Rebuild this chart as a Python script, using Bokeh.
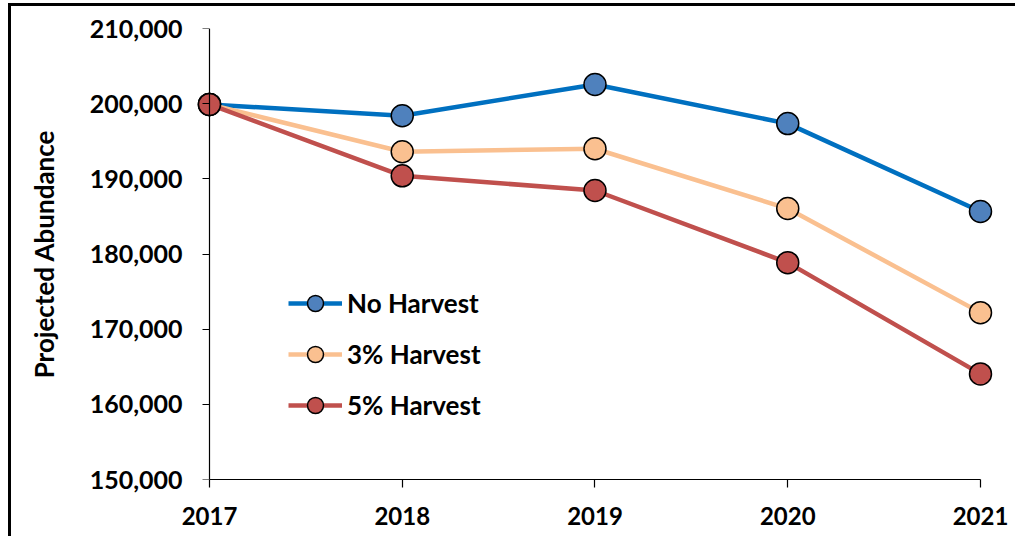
from bokeh.plotting import figure
from bokeh.models import FixedTicker, NumeralTickFormatter, Legend, LegendItem, Range1d, LinearAxis
from bokeh.embed import file_html
from bokeh.resources import INLINE

years = [2017, 2018, 2019, 2020, 2021]
no_harvest = [199900, 198400, 202550, 197350, 185650]
harvest_3 = [199900, 193600, 194000, 186050, 172200]
harvest_5 = [199900, 190400, 188450, 178850, 164050]
series_names = ["No Harvest", "3% Harvest", "5% Harvest"]
y_ticks = [150000, 160000, 170000, 180000, 190000, 200000, 210000]
x_ticks = years
y_label = "Projected Abundance"

FONT = "Lato"

p = figure(width=1007, height=533, output_backend="svg", toolbar_location=None,
           x_range=Range1d(2016.9326, 2021.1038), y_range=Range1d(150000, 210000),
           min_border_left=185, min_border_right=18, min_border_top=22, min_border_bottom=60,
           styles={"margin-left": "8px", "margin-top": "3px",
                   "border-left": "3px solid black", "border-top": "3px solid black"})
p.grid.visible = False
p.outline_line_color = None
p.background_fill_color = "white"
p.border_fill_color = "white"

# x axis
xa = p.xaxis[0]
xa.ticker = FixedTicker(ticks=x_ticks)
xa.bounds = (2017, 2021)
xa.axis_line_color = "black"
xa.axis_line_width = 1.2
xa.major_tick_line_color = "black"
xa.major_tick_line_width = 1.2
xa.major_tick_in = 0
xa.major_tick_out = 8
xa.minor_tick_line_color = None
xa.major_label_text_font = FONT
xa.major_label_text_font_style = "bold"
xa.major_label_text_font_size = "24px"
xa.major_label_text_color = "black"
xa.major_label_standoff = 19

# y axis: labels only, in the left panel
ya = p.yaxis[0]
ya.ticker = FixedTicker(ticks=y_ticks)
ya.formatter = NumeralTickFormatter(format="0,0")
ya.axis_line_color = None
ya.major_tick_line_color = None
ya.minor_tick_line_color = None
ya.major_tick_in = 0
ya.major_tick_out = 0
ya.major_label_standoff = 14
ya.major_label_text_font = FONT
ya.major_label_text_font_style = "bold"
ya.major_label_text_font_size = "25px"
ya.major_label_text_color = "black"
ya.axis_label = y_label
ya.axis_label_text_font = FONT
ya.axis_label_text_font_style = "bold"
ya.axis_label_text_font_size = "26px"
ya.axis_label_text_color = "black"
ya.axis_label_standoff = 27

# y axis line + ticks at x = 2017
yline = LinearAxis(ticker=FixedTicker(ticks=y_ticks), fixed_location=2017,
                   bounds=(150000, 210000),
                   axis_line_color="black", axis_line_width=1.2,
                   major_tick_line_color="black", major_tick_line_width=1.2,
                   major_tick_in=0, major_tick_out=7,
                   minor_tick_line_color=None,
                   major_label_text_font_size="0px", major_label_text_alpha=0)
p.add_layout(yline, "left")

line_colors = ["#0070C0", "#FAC090", "#C0504D"]
fill_colors = ["#4F81BD", "#FAC090", "#C0504D"]
data = [no_harvest, harvest_3, harvest_5]

items = []
for name, vals, lc, fc in zip(series_names, data, line_colors, fill_colors):
    l = p.line(years, vals, line_color=lc, line_width=4.5)
    s = p.scatter(years, vals, size=22, fill_color=fc, line_color="black", line_width=1.5)
    items.append(LegendItem(label=name, renderers=[l, s]))

legend = Legend(items=items, location=(92, 54), padding=0, margin=0,
                border_line_color=None, background_fill_alpha=0,
                glyph_width=54, glyph_height=40, label_height=40, spacing=11,
                label_standoff=5, label_text_font=FONT, label_text_font_style="bold",
                label_text_font_size="26px", label_text_color="black")
p.add_layout(legend)

open("out.html", "w").write(file_html(p, INLINE))
